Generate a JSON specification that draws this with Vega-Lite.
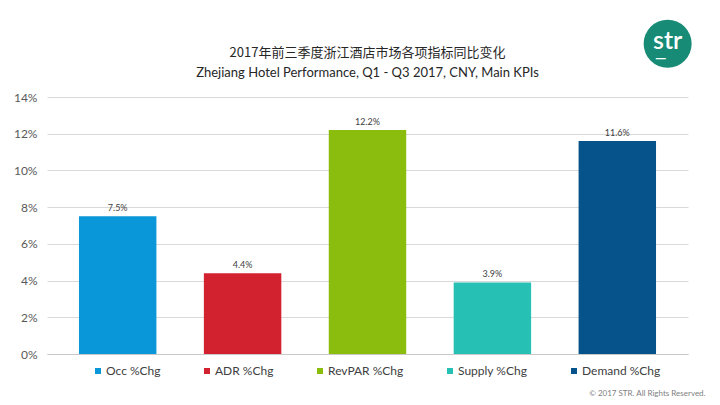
{
  "$schema": "https://vega.github.io/schema/vega-lite/v6.json",
  "autosize": "none",
  "width": 641,
  "height": 257,
  "padding": {"left": 47, "top": 97, "right": 32, "bottom": 51},
  "background": "#ffffff",
  "title": {
    "text": "2017年前三季度浙江酒店市场各项指标同比变化",
    "subtitle": "Zhejiang Hotel Performance, Q1 - Q3 2017, CNY, Main KPIs",
    "anchor": "middle",
    "font": "Noto Sans CJK SC",
    "fontSize": 13,
    "fontWeight": "normal",
    "color": "#262626",
    "subtitleFont": "Lato",
    "subtitleFontSize": 13,
    "subtitleColor": "#262626",
    "subtitlePadding": 7,
    "offset": 18,
    "dy": 78
  },
  "config": {
    "view": {"stroke": null},
    "font": "Lato",
    "axisY": {"tickCount": 8}
  },
  "layer": [
    {
      "data": {
        "values": [
          {"kpi": "Occ %Chg", "chg": 0.075},
          {"kpi": "ADR %Chg", "chg": 0.044},
          {"kpi": "RevPAR %Chg", "chg": 0.122},
          {"kpi": "Supply %Chg", "chg": 0.039},
          {"kpi": "Demand %Chg", "chg": 0.116}
        ]
      },
      "layer": [
        {
          "mark": {"type": "bar"},
          "encoding": {
            "x": {
              "field": "kpi",
              "type": "nominal",
              "sort": null,
              "scale": {"paddingInner": 0.38, "paddingOuter": 0.256},
              "axis": {
                "title": "© 2017 STR. All Rights Reserved.",
                "titleFont": "Lato",
                "titleFontSize": 8,
                "titleFontWeight": "normal",
                "titleColor": "#808080",
                "titleAnchor": "end",
                "titleAlign": "right",
                "titleX": 658,
                "titleY": 41,
                "titleBaseline": "alphabetic",
                "labels": false,
                "ticks": false,
                "domain": true,
                "domainColor": "#c8c8c8",
                "grid": false
              }
            },
            "y": {
              "field": "chg",
              "type": "quantitative",
              "scale": {"domain": [0, 0.14]},
              "axis": {
                "title": null,
                "values": [0, 0.02, 0.04, 0.06, 0.08, 0.1, 0.12, 0.14],
                "format": ".0%",
                "labelFont": "Lato",
                "labelFontSize": 12,
                "labelColor": "#595959",
                "labelPadding": 10,
                "labelOverlap": false,
                "ticks": false,
                "domain": false,
                "grid": true,
                "gridColor": "#d9d9d9",
                "gridWidth": 1
              }
            },
            "color": {
              "field": "kpi",
              "type": "nominal",
              "sort": null,
              "scale": {
                "domain": ["Occ %Chg", "ADR %Chg", "RevPAR %Chg", "Supply %Chg", "Demand %Chg"],
                "range": ["#0a97d9", "#d3222f", "#8bbd0e", "#26c0b4", "#06528a"]
              },
              "legend": {
                "title": null,
                "orient": "none",
                "legendX": 45,
                "legendY": 268,
                "direction": "horizontal",
                "columns": 5,
                "columnPadding": 40,
                "symbolType": "square",
                "symbolSize": 36,
                "symbolStrokeWidth": 0,
                "symbolOffset": 0,
                "labelOffset": 2,
                "labelFont": "Lato",
                "labelFontSize": 12,
                "labelColor": "#404040"
              }
            }
          }
        },
        {
          "mark": {"type": "text", "baseline": "alphabetic", "dy": -5, "fontSize": 9, "font": "Lato", "color": "#404040"},
          "encoding": {
            "x": {"field": "kpi", "type": "nominal", "sort": null},
            "y": {
              "field": "chg",
              "type": "quantitative",
              "scale": {"domain": [0, 0.14]},
              "axis": {
                "title": null,
                "values": [0, 0.02, 0.04, 0.06, 0.08, 0.1, 0.12, 0.14],
                "format": ".0%",
                "labelFont": "Lato",
                "labelFontSize": 12,
                "labelColor": "#595959",
                "labelPadding": 10,
                "labelOverlap": false,
                "ticks": false,
                "domain": false,
                "grid": true,
                "gridColor": "#d9d9d9",
                "gridWidth": 1
              }
            },
            "text": {"field": "chg", "type": "quantitative", "format": ".1%"}
          }
        }
      ]
    },
    {
      "data": {"values": [{"logo": "str", "bar": "—"}]},
      "layer": [
        {
          "mark": {"type": "point", "shape": "circle", "filled": true, "size": 2304, "color": "#178b75", "opacity": 1},
          "encoding": {
            "x": {"datum": "Demand %Chg", "type": "nominal", "bandPosition": 1.15},
            "y": {"datum": 0.169, "type": "quantitative", "scale": {"domain": [0, 0.14]}}
          }
        },
        {
          "mark": {"type": "text", "font": "Lato", "fontSize": 25, "fontWeight": 600, "color": "#ffffff", "baseline": "middle", "dy": -3},
          "encoding": {
            "x": {"datum": "Demand %Chg", "type": "nominal", "bandPosition": 1.15},
            "y": {"datum": 0.169, "type": "quantitative", "scale": {"domain": [0, 0.14]}},
            "text": {"field": "logo"}
          }
        },
        {
          "mark": {"type": "text", "font": "DejaVu Sans", "fontSize": 11, "fontWeight": "bold", "color": "#ffffff", "baseline": "middle", "dy": 15, "dx": -7},
          "encoding": {
            "x": {"datum": "Demand %Chg", "type": "nominal", "bandPosition": 1.15},
            "y": {"datum": 0.169, "type": "quantitative", "scale": {"domain": [0, 0.14]}},
            "text": {"field": "bar"}
          }
        }
      ]
    }
  ]
}
